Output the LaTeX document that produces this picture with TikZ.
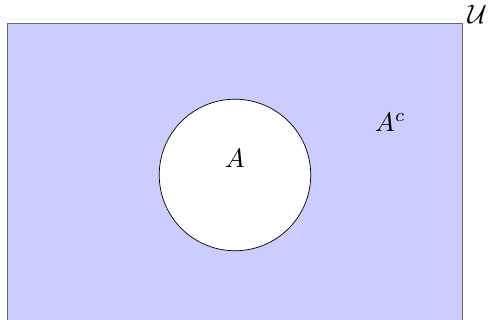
\documentclass[tikz,border=0pt]{standalone}
\usepackage{amsmath,amssymb}
\usepackage{tikz}
\usetikzlibrary{positioning}

\begin{document}
\begin{tikzpicture}[
  scale=1.5, transform shape,
  univ/.style={draw=black!60,fill=blue!20},
  setA/.style={draw,fill=white}
]
\useasboundingbox (-3.102,-1.914) rectangle (3.406,2.31);
\draw[univ] (-3,-2) rectangle (3,2);
\coordinate (ne) at (3.03,2.12);
\node[right,inner sep=1pt] (u) at (ne) {$\mathcal{U}$};
\draw[setA] (0,0) circle (1);
\node (a) at (0,0.22) {$A$};
\node (ac) at (2.05,0.7) {$A^c$};
\end{tikzpicture}
\end{document}
